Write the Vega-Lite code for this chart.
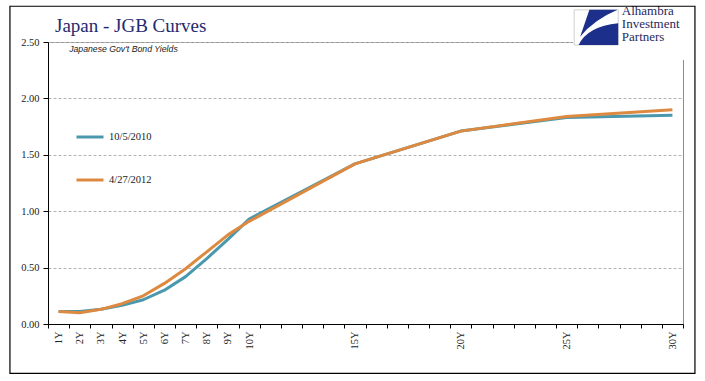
{
  "$schema": "https://vega.github.io/schema/vega-lite/v6.json",
  "autosize": {"type": "none"},
  "padding": {"left": 48, "top": 42, "right": 22, "bottom": 57},
  "width": 635,
  "height": 282,
  "background": "white",
  "config": {
    "view": {"stroke": "#8c8c8c", "strokeWidth": 1},
    "axis": {
      "labelFont": "Liberation Serif",
      "labelColor": "#222222",
      "domainColor": "#000000",
      "tickColor": "#000000",
      "titleFont": "Liberation Serif"
    }
  },
  "data": {
    "values": [
      {"tenor": "1Y", "date": "10/5/2010", "yield": 0.11},
      {"tenor": "2Y", "date": "10/5/2010", "yield": 0.11},
      {"tenor": "3Y", "date": "10/5/2010", "yield": 0.13},
      {"tenor": "4Y", "date": "10/5/2010", "yield": 0.165},
      {"tenor": "5Y", "date": "10/5/2010", "yield": 0.215},
      {"tenor": "6Y", "date": "10/5/2010", "yield": 0.30},
      {"tenor": "7Y", "date": "10/5/2010", "yield": 0.42},
      {"tenor": "8Y", "date": "10/5/2010", "yield": 0.58},
      {"tenor": "9Y", "date": "10/5/2010", "yield": 0.75},
      {"tenor": "10Y", "date": "10/5/2010", "yield": 0.93},
      {"tenor": "15Y", "date": "10/5/2010", "yield": 1.42},
      {"tenor": "20Y", "date": "10/5/2010", "yield": 1.71},
      {"tenor": "25Y", "date": "10/5/2010", "yield": 1.83},
      {"tenor": "30Y", "date": "10/5/2010", "yield": 1.85},
      {"tenor": "1Y", "date": "4/27/2012", "yield": 0.11},
      {"tenor": "2Y", "date": "4/27/2012", "yield": 0.10},
      {"tenor": "3Y", "date": "4/27/2012", "yield": 0.13},
      {"tenor": "4Y", "date": "4/27/2012", "yield": 0.18},
      {"tenor": "5Y", "date": "4/27/2012", "yield": 0.25},
      {"tenor": "6Y", "date": "4/27/2012", "yield": 0.36},
      {"tenor": "7Y", "date": "4/27/2012", "yield": 0.49},
      {"tenor": "8Y", "date": "4/27/2012", "yield": 0.64},
      {"tenor": "9Y", "date": "4/27/2012", "yield": 0.79},
      {"tenor": "10Y", "date": "4/27/2012", "yield": 0.91},
      {"tenor": "15Y", "date": "4/27/2012", "yield": 1.42},
      {"tenor": "20Y", "date": "4/27/2012", "yield": 1.71},
      {"tenor": "25Y", "date": "4/27/2012", "yield": 1.84},
      {"tenor": "30Y", "date": "4/27/2012", "yield": 1.90}
    ]
  },
  "layer": [
    {
      "mark": {"type": "line", "strokeWidth": 3, "interpolate": "linear", "strokeJoin": "round"},
      "encoding": {
        "x": {
          "field": "tenor",
          "type": "ordinal",
          "scale": {
            "type": "band",
            "paddingInner": 0,
            "paddingOuter": 0,
            "domain": ["1Y","2Y","3Y","4Y","5Y","6Y","7Y","8Y","9Y","10Y","11Y","12Y","13Y","14Y","15Y","16Y","17Y","18Y","19Y","20Y","21Y","22Y","23Y","24Y","25Y","26Y","27Y","28Y","29Y","30Y"]
          },
          "axis": {
            "title": null,
            "labelAngle": 270,
            "labelFontSize": 10.5,
            "labelPadding": 3,
            "tickSize": 4,
            "tickBand": "extent",
            "grid": false,
            "labelOverlap": false,
            "labelExpr": "(toNumber(replace(datum.value, 'Y', '')) <= 10 || toNumber(replace(datum.value, 'Y', '')) % 5 == 0) ? datum.value : ''"
          }
        },
        "y": {
          "field": "yield",
          "type": "quantitative",
          "scale": {"domain": [0, 2.5], "nice": false, "zero": true},
          "axis": {
            "title": null,
            "values": [0, 0.5, 1, 1.5, 2, 2.5],
            "format": ".2f",
            "labelFontSize": 10.5,
            "labelPadding": 4,
            "tickSize": 5,
            "gridColor": "#b4b4b4",
            "gridDash": [3, 2],
            "gridWidth": 1
          }
        },
        "color": {
          "field": "date",
          "type": "nominal",
          "scale": {"domain": ["10/5/2010", "4/27/2012"], "range": ["#4a98ae", "#dd8a40"]},
          "legend": {
            "title": null,
            "orient": "none",
            "legendX": 27,
            "legendY": 80,
            "symbolType": "stroke",
            "symbolSize": 729,
            "symbolStrokeWidth": 3,
            "rowPadding": 22,
            "labelFont": "Liberation Serif",
            "labelFontSize": 10.5,
            "labelColor": "#222222",
            "labelOffset": 4,
            "padding": 0
          }
        }
      }
    },
    {
      "data": {"values": [{}]},
      "mark": {"type": "text", "text": "Japan - JGB Curves", "font": "Liberation Serif", "fontSize": 19, "color": "#1f2a6e", "align": "left", "baseline": "alphabetic"},
      "encoding": {
        "x": {"datum": "1Y", "type": "ordinal", "bandPosition": 0.33},
        "y": {"datum": 2.585, "type": "quantitative"}
      }
    },
    {
      "data": {"values": [{}]},
      "mark": {"type": "text", "text": "Japanese Gov't Bond Yields", "font": "Liberation Sans", "fontStyle": "italic", "fontSize": 8.7, "color": "#222222", "align": "left", "baseline": "alphabetic"},
      "encoding": {
        "x": {"datum": "2Y", "type": "ordinal", "bandPosition": 0},
        "y": {"datum": 2.411, "type": "quantitative"}
      }
    },
    {
      "data": {"values": [{}]},
      "mark": {"type": "point", "shape": "square", "filled": true, "color": "white", "opacity": 1, "size": 14400},
      "encoding": {
        "x": {"datum": "28Y", "type": "ordinal", "bandPosition": 0.63},
        "y": {"datum": 2.872, "type": "quantitative"}
      }
    },
    {
      "data": {"values": [{}]},
      "mark": {"type": "point", "shape": "M -1 -0.8 L 1 -0.8 L 1 0.8 L -1 0.8 Z", "filled": true, "fill": "white", "stroke": "#d0d0d0", "strokeWidth": 1, "opacity": 1, "size": 1936},
      "encoding": {
        "x": {"datum": "26Y", "type": "ordinal", "bandPosition": 0.9},
        "y": {"datum": 2.629, "type": "quantitative"}
      }
    },
    {
      "data": {"values": [{}]},
      "mark": {"type": "point", "shape": "M -0.31 -0.8 L 0.97 -0.8 Q -0.1 -0.35 -0.73 0.42 Z M -0.8 0.8 L 1 0.8 L 1 -0.19 Q -0.4 -0.05 -0.8 0.8 Z", "filled": true, "color": "#1c2f8a", "opacity": 1, "size": 1936},
      "encoding": {
        "x": {"datum": "26Y", "type": "ordinal", "bandPosition": 0.9},
        "y": {"datum": 2.629, "type": "quantitative"}
      }
    },
    {
      "data": {"values": [{}]},
      "mark": {"type": "text", "text": ["Alhambra", "Investment", "Partners"], "lineHeight": 13, "font": "Liberation Serif", "fontSize": 13, "color": "#1f2a5e", "align": "left", "baseline": "top"},
      "encoding": {
        "x": {"datum": "28Y", "type": "ordinal", "bandPosition": 0.11},
        "y": {"datum": 2.83, "type": "quantitative"}
      }
    },
    {
      "data": {"values": [{}]},
      "mark": {"type": "point", "shape": "M -1 -0.5358 L 1 -0.5358 L 1 0.5358 L -1 0.5358 Z", "filled": false, "stroke": "#000000", "strokeWidth": 1.2, "opacity": 1, "size": 469225},
      "encoding": {
        "x": {"datum": "15Y", "type": "ordinal", "bandPosition": 0.383},
        "y": {"datum": 1.19, "type": "quantitative"}
      }
    }
  ]
}
